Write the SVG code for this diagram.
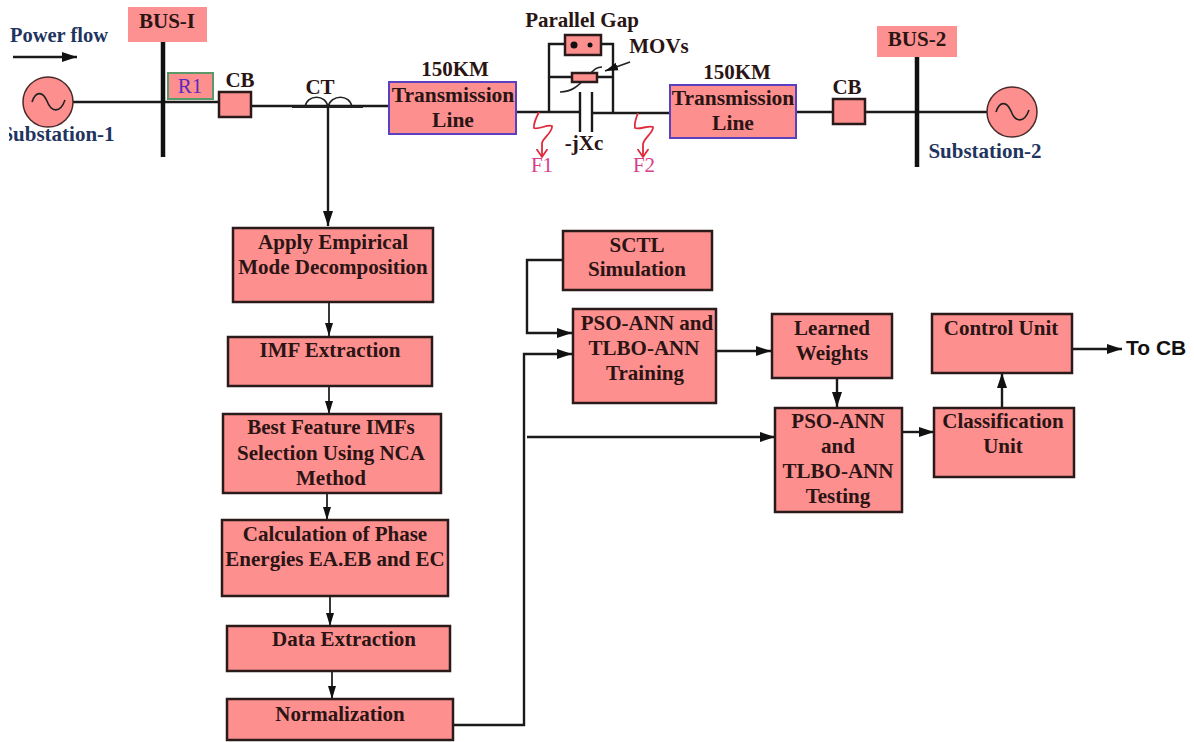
<svg xmlns="http://www.w3.org/2000/svg" width="1194" height="742" viewBox="0 0 1194 742">
<style>
text{font-family:"Liberation Serif",serif;font-weight:bold;font-size:21px;fill:#2a1414;text-anchor:middle}
.box{fill:#fd8f8f;stroke:#2a1a1a;stroke-width:2.5}
.tl{fill:#fd8f8f;stroke:#5a3fc0;stroke-width:2}
.bus{fill:#fd9090;stroke:none}
.w{fill:none;stroke:#1a1a1a;stroke-width:2.4}
.n{fill:none;stroke:#222;stroke-width:1.8}
.bar{fill:none;stroke:#111;stroke-width:4.5}
.th{fill:none;stroke:#222;stroke-width:1.6}
.red{fill:none;stroke:#e02a3a;stroke-width:1.8}
.navy{fill:#1f3560}
.pink{fill:#d8408a;font-weight:normal}
.big{font-size:21.5px}
</style>
<defs>
<marker id="a" markerUnits="userSpaceOnUse" markerWidth="16" markerHeight="12" refX="15" refY="6" orient="auto"><path d="M0 1L15 6L0 11Z" fill="#111"/></marker>
<marker id="s" markerUnits="userSpaceOnUse" markerWidth="14" markerHeight="10" refX="13" refY="5" orient="auto"><path d="M0 1L13 5L0 9Z" fill="#111"/></marker>
<marker id="r" markerUnits="userSpaceOnUse" markerWidth="10" markerHeight="12" refX="8" refY="6" orient="auto"><path d="M0 0.5L8 6L0 11.5" fill="none" stroke="#e02a3a" stroke-width="1.8"/></marker>
<clipPath id="cut"><rect x="9" y="120" width="120" height="30"/></clipPath>
</defs>
<g id="connectors">
<path class="w" d="M73 102H163M165 102H219"/>
<path class="w" d="M251 106H390"/>
<path class="n" d="M292 107H363"/>
<path class="th" d="M305 107C307 94 326 94 328 107C331 94 350 94 352 107"/>
<path class="w" d="M328 107V226" marker-end="url(#a)"/>
<path class="w" d="M516 112H580M592 113H670"/>
<path class="w" d="M549 112V44H565M601 44H613V113"/>
<path class="w" d="M549 77H572M597 77H613"/>
<path class="w" d="M580 92V132M592 92V132"/>
<path class="th" d="M560 92C572 92 578 86 588 76C594 70 596 67 602 67"/>
<path class="n" d="M630 62L605 71" marker-end="url(#s)"/>
<path class="w" d="M796 112H833M865 112H987"/>
<path class="bar" d="M163 42V157M917 57V167"/>
<path class="w" d="M13 57H77" marker-end="url(#a)"/>
<path class="red" d="M539 112C536 118 533 124 534 128C538 130 548 124 552 126C553 132 543 138 542 143V157" marker-end="url(#r)"/>
<path class="red" d="M638 113C636 118 634 124 635 128C639 130 649 125 653 127C654 132 644 138 643 144V157" marker-end="url(#r)"/>
<path class="n" d="M329 303V336" marker-end="url(#s)"/>
<path class="n" d="M329 386V414" marker-end="url(#s)"/>
<path class="n" d="M327 493V520" marker-end="url(#s)"/>
<path class="n" d="M330 596V626" marker-end="url(#s)"/>
<path class="n" d="M332 671V699" marker-end="url(#s)"/>
<path class="w" d="M453 725H524V354H572" marker-end="url(#a)"/>
<path class="w" d="M563 260H527V333H572" marker-end="url(#a)"/>
<path class="w" d="M527 437H775" marker-end="url(#a)"/>
<path class="w" d="M716 351H771" marker-end="url(#a)"/>
<path class="w" d="M837 378V407" marker-end="url(#a)"/>
<path class="w" d="M902 432H934" marker-end="url(#a)"/>
<path class="w" d="M1002 408V373" marker-end="url(#a)"/>
<path class="w" d="M1072 349H1122" marker-end="url(#a)"/>
</g>
<g id="power-flow"><text class="navy" x="59" y="42" style="font-size:20.5px">Power flow</text></g>
<g id="substation-1"><circle cx="48" cy="102" r="25" fill="#fd8f8f" stroke="#4a2a2a" stroke-width="1.5"/><path class="th" d="M32 102C36 90 43 92 47 101C51 112 60 114 65 100"/><text class="navy" x="58" y="141" clip-path="url(#cut)">Substation-1</text></g>
<g id="bus-1"><rect class="bus" x="128" y="7" width="79" height="35"/><text x="167" y="28">BUS-I</text></g>
<g id="r1"><rect x="168" y="73" width="45" height="26" fill="#fd8f8f" stroke="#5a9a6a" stroke-width="2"/><text x="190" y="93" style="fill:#5a2ac0;font-weight:normal">R1</text></g>
<g id="cb-1"><rect class="box" x="219" y="92" width="32" height="25"/><text x="240" y="87">CB</text></g>
<g id="ct"><text x="320" y="94">CT</text></g>
<g id="line-1"><rect class="tl" x="389" y="82" width="127" height="52"/><text x="455" y="76">150KM</text><text class="big" x="453" y="102">Transmission</text><text class="big" x="453" y="127">Line</text></g>
<g id="parallel-gap"><rect class="box" x="565" y="35" width="36" height="20" stroke-width="2"/><circle cx="574" cy="45" r="3.5" fill="#111"/><circle cx="590" cy="45" r="2.5" fill="#111"/><text x="582" y="27">Parallel Gap</text></g>
<g id="movs"><rect class="box" x="572" y="73" width="25" height="9" stroke-width="1.6"/><text x="659" y="53">MOVs</text></g>
<g id="capacitor"><text x="584" y="150">-jXc</text></g>
<g id="f1"><text class="pink" x="542" y="172">F1</text></g>
<g id="f2"><text class="pink" x="644" y="172">F2</text></g>
<g id="line-2"><rect class="tl" x="670" y="85" width="126" height="53"/><text x="737" y="79">150KM</text><text class="big" x="733" y="105">Transmission</text><text class="big" x="733" y="130">Line</text></g>
<g id="cb-2"><rect class="box" x="833" y="99" width="32" height="25"/><text x="847" y="94">CB</text></g>
<g id="bus-2"><rect class="bus" x="877" y="26" width="80" height="31"/><text x="917" y="46">BUS-2</text></g>
<g id="substation-2"><circle cx="1012" cy="112" r="25" fill="#fd8f8f" stroke="#4a2a2a" stroke-width="1.5"/><path class="th" d="M996 112C1000 100 1007 102 1011 111C1015 122 1024 124 1029 110"/><text class="navy" x="985" y="158">Substation-2</text></g>
<g id="emd"><rect class="box" x="233" y="228" width="200" height="74"/><text x="333" y="249">Apply Empirical</text><text x="333" y="274">Mode Decomposition</text></g>
<g id="imf"><rect class="box" x="228" y="337" width="204" height="49"/><text x="330" y="357">IMF Extraction</text></g>
<g id="best"><rect class="box" x="223" y="414" width="218" height="79"/><text x="331" y="434">Best Feature IMFs</text><text x="331" y="460">Selection Using NCA</text><text x="331" y="485">Method</text></g>
<g id="calc"><rect class="box" x="222" y="520" width="226" height="76"/><text x="335" y="541">Calculation of Phase</text><text x="335" y="566">Energies EA.EB and EC</text></g>
<g id="data"><rect class="box" x="227" y="626" width="223" height="45"/><text x="344" y="646">Data Extraction</text></g>
<g id="norm"><rect class="box" x="227" y="699" width="226" height="41"/><text x="340" y="721">Normalization</text></g>
<g id="sctl"><rect class="box" x="563" y="231" width="149" height="59"/><text x="637" y="252">SCTL</text><text x="637" y="276">Simulation</text></g>
<g id="training"><rect class="box" x="573" y="309" width="143" height="94"/><text x="647" y="330">PSO-ANN and</text><text x="644" y="355">TLBO-ANN</text><text x="645" y="380">Training</text></g>
<g id="weights"><rect class="box" x="772" y="314" width="120" height="64"/><text x="832" y="335">Learned</text><text x="832" y="360">Weights</text></g>
<g id="testing"><rect class="box" x="775" y="408" width="127" height="104"/><text x="838" y="428">PSO-ANN</text><text x="838" y="453">and</text><text x="838" y="478">TLBO-ANN</text><text x="838" y="503">Testing</text></g>
<g id="classification"><rect class="box" x="934" y="408" width="140" height="69"/><text x="1003" y="428">Classification</text><text x="1003" y="453">Unit</text></g>
<g id="control"><rect class="box" x="932" y="314" width="140" height="59"/><text x="1001" y="335">Control Unit</text></g>
<g id="to-cb"><text x="1126" y="355" style="font-family:'Liberation Sans',sans-serif;font-size:21px;fill:#111;text-anchor:start">To CB</text></g>
</svg>
